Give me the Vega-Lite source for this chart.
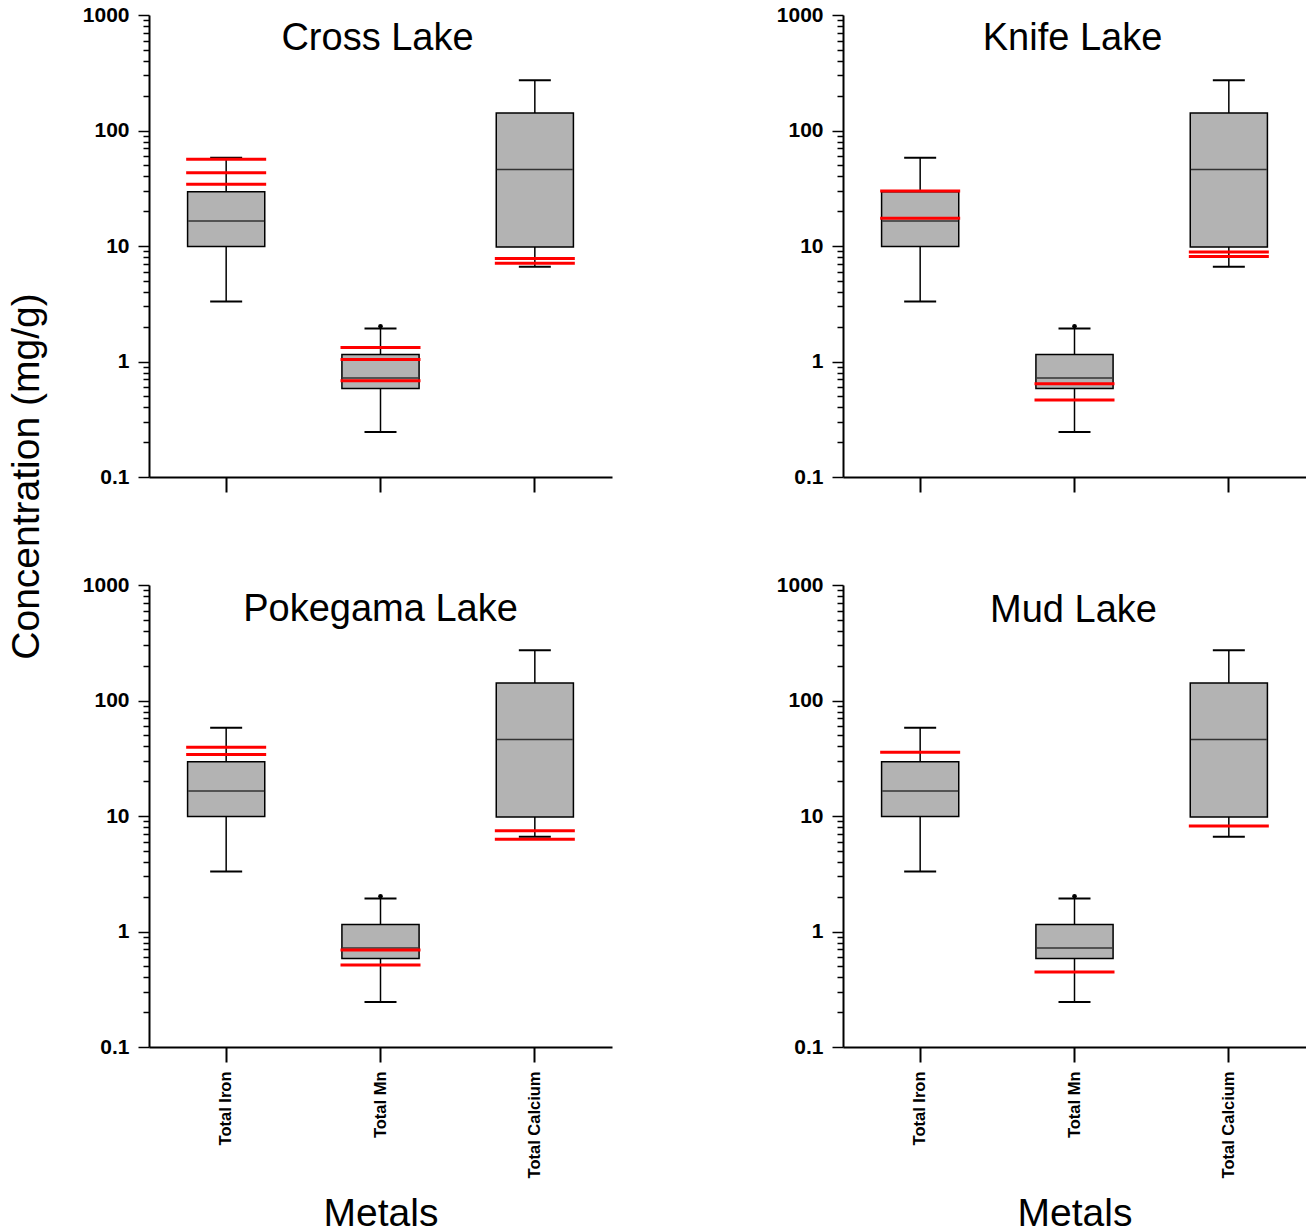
{
  "$schema": "https://vega.github.io/schema/vega-lite/v6.json",
  "background": "white",
  "padding": {"left": 7, "top": 4, "right": 0, "bottom": 0},
  "bounds": "flush",
  "columns": 2,
  "spacing": {"row": 108, "column": 231},
  "datasets": {
    "box": [
      {"lake": "Cross Lake", "metal": "Total Iron", "min": 3.3, "q1": 9.9, "median": 16.5, "q3": 29.5, "max": 58, "outlier": null},
      {"lake": "Cross Lake", "metal": "Total Mn", "min": 0.245, "q1": 0.585, "median": 0.72, "q3": 1.15, "max": 1.93, "outlier": 2.02},
      {"lake": "Cross Lake", "metal": "Total Calcium", "min": 6.6, "q1": 9.8, "median": 46, "q3": 142, "max": 272, "outlier": null},
      {"lake": "Knife Lake", "metal": "Total Iron", "min": 3.3, "q1": 9.9, "median": 16.5, "q3": 29.5, "max": 58, "outlier": null},
      {"lake": "Knife Lake", "metal": "Total Mn", "min": 0.245, "q1": 0.585, "median": 0.72, "q3": 1.15, "max": 1.93, "outlier": 2.02},
      {"lake": "Knife Lake", "metal": "Total Calcium", "min": 6.6, "q1": 9.8, "median": 46, "q3": 142, "max": 272, "outlier": null},
      {"lake": "Pokegama Lake", "metal": "Total Iron", "min": 3.3, "q1": 9.9, "median": 16.5, "q3": 29.5, "max": 58, "outlier": null},
      {"lake": "Pokegama Lake", "metal": "Total Mn", "min": 0.245, "q1": 0.585, "median": 0.72, "q3": 1.15, "max": 1.93, "outlier": 2.02},
      {"lake": "Pokegama Lake", "metal": "Total Calcium", "min": 6.6, "q1": 9.8, "median": 46, "q3": 142, "max": 272, "outlier": null},
      {"lake": "Mud Lake", "metal": "Total Iron", "min": 3.3, "q1": 9.9, "median": 16.5, "q3": 29.5, "max": 58, "outlier": null},
      {"lake": "Mud Lake", "metal": "Total Mn", "min": 0.245, "q1": 0.585, "median": 0.72, "q3": 1.15, "max": 1.93, "outlier": 2.02},
      {"lake": "Mud Lake", "metal": "Total Calcium", "min": 6.6, "q1": 9.8, "median": 46, "q3": 142, "max": 272, "outlier": null}
    ],
    "ref": [
      {"lake": "Cross Lake", "metal": "Total Iron", "value": 56.5},
      {"lake": "Cross Lake", "metal": "Total Iron", "value": 43},
      {"lake": "Cross Lake", "metal": "Total Iron", "value": 34.2},
      {"lake": "Cross Lake", "metal": "Total Mn", "value": 1.32},
      {"lake": "Cross Lake", "metal": "Total Mn", "value": 1.04},
      {"lake": "Cross Lake", "metal": "Total Mn", "value": 0.68},
      {"lake": "Cross Lake", "metal": "Total Calcium", "value": 7.8},
      {"lake": "Cross Lake", "metal": "Total Calcium", "value": 7.1},
      {"lake": "Knife Lake", "metal": "Total Iron", "value": 30},
      {"lake": "Knife Lake", "metal": "Total Iron", "value": 17.4},
      {"lake": "Knife Lake", "metal": "Total Mn", "value": 0.643},
      {"lake": "Knife Lake", "metal": "Total Mn", "value": 0.464},
      {"lake": "Knife Lake", "metal": "Total Calcium", "value": 8.86},
      {"lake": "Knife Lake", "metal": "Total Calcium", "value": 8.11},
      {"lake": "Pokegama Lake", "metal": "Total Iron", "value": 39.4},
      {"lake": "Pokegama Lake", "metal": "Total Iron", "value": 34.0},
      {"lake": "Pokegama Lake", "metal": "Total Mn", "value": 0.69},
      {"lake": "Pokegama Lake", "metal": "Total Mn", "value": 0.513},
      {"lake": "Pokegama Lake", "metal": "Total Calcium", "value": 7.45},
      {"lake": "Pokegama Lake", "metal": "Total Calcium", "value": 6.3},
      {"lake": "Mud Lake", "metal": "Total Iron", "value": 35.7},
      {"lake": "Mud Lake", "metal": "Total Mn", "value": 0.446},
      {"lake": "Mud Lake", "metal": "Total Calcium", "value": 8.18}
    ]
  },
  "concat": [
    {
      "width": 463, "height": 462,
      "data": {"name": "box"},
      "transform": [{"filter": "datum.lake === 'Cross Lake'"}],
      "layer": [
        {"mark": {"type": "rule", "color": "black", "strokeWidth": 1.5},
         "encoding": {
           "x": {"field": "metal", "type": "nominal", "sort": ["Total Iron", "Total Mn", "Total Calcium"], "scale": {"type": "band", "paddingInner": 0, "paddingOuter": 0},
                 "axis": {"labels": false, "title": null, "tickSize": 15, "tickWidth": 2, "domainWidth": 2}},
           "y": {"field": "min", "type": "quantitative", "scale": {"type": "log", "domain": [0.1, 1000], "nice": false},
                 "axis": {"values": [0.1,0.2,0.3,0.4,0.5,0.6,0.7,0.8,0.9,1,2,3,4,5,6,7,8,9,10,20,30,40,50,60,70,80,90,100,200,300,400,500,600,700,800,900,1000],
                          "labelExpr": "indexof([0.1,1,10,100,1000], datum.value) >= 0 ? datum.label : ''", "format": "~g",
                          "tickSize": {"condition": {"test": "indexof([0.1,1,10,100,1000], datum.value) >= 0", "value": 11}, "value": 6},
                          "title": "Concentration (mg/g)", "titleX": -103, "titleY": 461, "titleBaseline": "bottom", "titleAngle": 270, "titleAlign": "center", "titleFontSize": 39}},
           "y2": {"field": "max"}}},
        {"mark": {"type": "bar", "width": {"band": 0.5}, "fill": "#b3b3b3", "stroke": "black", "strokeWidth": 1.5},
         "encoding": {"x": {"field": "metal", "type": "nominal", "sort": ["Total Iron", "Total Mn", "Total Calcium"]}, "y": {"field": "q1", "type": "quantitative"}, "y2": {"field": "q3"}}},
        {"mark": {"type": "tick", "color": "#333333", "opacity": 1, "thickness": 1.5, "size": 76},
         "encoding": {"x": {"field": "metal", "type": "nominal", "sort": ["Total Iron", "Total Mn", "Total Calcium"]}, "y": {"field": "median", "type": "quantitative"}}},
        {"mark": {"type": "tick", "color": "black", "opacity": 1, "thickness": 2, "size": 32},
         "encoding": {"x": {"field": "metal", "type": "nominal", "sort": ["Total Iron", "Total Mn", "Total Calcium"]}, "y": {"field": "min", "type": "quantitative"}}},
        {"mark": {"type": "tick", "color": "black", "opacity": 1, "thickness": 2, "size": 32},
         "encoding": {"x": {"field": "metal", "type": "nominal", "sort": ["Total Iron", "Total Mn", "Total Calcium"]}, "y": {"field": "max", "type": "quantitative"}}},
        {"transform": [{"filter": "isValid(datum.outlier)"}],
         "mark": {"type": "point", "filled": true, "color": "black", "size": 22, "opacity": 1},
         "encoding": {"x": {"field": "metal", "type": "nominal", "sort": ["Total Iron", "Total Mn", "Total Calcium"]}, "y": {"field": "outlier", "type": "quantitative"}}},
        {"data": {"name": "ref"}, "transform": [{"filter": "datum.lake === 'Cross Lake'"}],
         "mark": {"type": "tick", "color": "#ff0000", "opacity": 1, "thickness": 3, "size": 80},
         "encoding": {"x": {"field": "metal", "type": "nominal", "sort": ["Total Iron", "Total Mn", "Total Calcium"]}, "y": {"field": "value", "type": "quantitative"}}},
        {"transform": [{"filter": "datum.metal === 'Total Mn'"}],
         "mark": {"type": "text", "font": "Liberation Sans", "fontSize": 38, "baseline": "alphabetic", "dx": -3, "dy": 35, "color": "black"},
         "encoding": {"x": {"field": "metal", "type": "nominal", "sort": ["Total Iron", "Total Mn", "Total Calcium"]}, "y": {"datum": 1000, "type": "quantitative"}, "text": {"field": "lake"}}}
      ]
    },
    {
      "width": 463, "height": 462,
      "data": {"name": "box"},
      "transform": [{"filter": "datum.lake === 'Knife Lake'"}],
      "layer": [
        {"mark": {"type": "rule", "color": "black", "strokeWidth": 1.5},
         "encoding": {
           "x": {"field": "metal", "type": "nominal", "sort": ["Total Iron", "Total Mn", "Total Calcium"], "scale": {"type": "band", "paddingInner": 0, "paddingOuter": 0},
                 "axis": {"labels": false, "title": null, "tickSize": 15, "tickWidth": 2, "domainWidth": 2}},
           "y": {"field": "min", "type": "quantitative", "scale": {"type": "log", "domain": [0.1, 1000], "nice": false},
                 "axis": {"values": [0.1,0.2,0.3,0.4,0.5,0.6,0.7,0.8,0.9,1,2,3,4,5,6,7,8,9,10,20,30,40,50,60,70,80,90,100,200,300,400,500,600,700,800,900,1000],
                          "labelExpr": "indexof([0.1,1,10,100,1000], datum.value) >= 0 ? datum.label : ''", "format": "~g",
                          "tickSize": {"condition": {"test": "indexof([0.1,1,10,100,1000], datum.value) >= 0", "value": 11}, "value": 6},
                          "title": null}},
           "y2": {"field": "max"}}},
        {"mark": {"type": "bar", "width": {"band": 0.5}, "fill": "#b3b3b3", "stroke": "black", "strokeWidth": 1.5},
         "encoding": {"x": {"field": "metal", "type": "nominal", "sort": ["Total Iron", "Total Mn", "Total Calcium"]}, "y": {"field": "q1", "type": "quantitative"}, "y2": {"field": "q3"}}},
        {"mark": {"type": "tick", "color": "#333333", "opacity": 1, "thickness": 1.5, "size": 76},
         "encoding": {"x": {"field": "metal", "type": "nominal", "sort": ["Total Iron", "Total Mn", "Total Calcium"]}, "y": {"field": "median", "type": "quantitative"}}},
        {"mark": {"type": "tick", "color": "black", "opacity": 1, "thickness": 2, "size": 32},
         "encoding": {"x": {"field": "metal", "type": "nominal", "sort": ["Total Iron", "Total Mn", "Total Calcium"]}, "y": {"field": "min", "type": "quantitative"}}},
        {"mark": {"type": "tick", "color": "black", "opacity": 1, "thickness": 2, "size": 32},
         "encoding": {"x": {"field": "metal", "type": "nominal", "sort": ["Total Iron", "Total Mn", "Total Calcium"]}, "y": {"field": "max", "type": "quantitative"}}},
        {"transform": [{"filter": "isValid(datum.outlier)"}],
         "mark": {"type": "point", "filled": true, "color": "black", "size": 22, "opacity": 1},
         "encoding": {"x": {"field": "metal", "type": "nominal", "sort": ["Total Iron", "Total Mn", "Total Calcium"]}, "y": {"field": "outlier", "type": "quantitative"}}},
        {"data": {"name": "ref"}, "transform": [{"filter": "datum.lake === 'Knife Lake'"}],
         "mark": {"type": "tick", "color": "#ff0000", "opacity": 1, "thickness": 3, "size": 80},
         "encoding": {"x": {"field": "metal", "type": "nominal", "sort": ["Total Iron", "Total Mn", "Total Calcium"]}, "y": {"field": "value", "type": "quantitative"}}},
        {"transform": [{"filter": "datum.metal === 'Total Mn'"}],
         "mark": {"type": "text", "font": "Liberation Sans", "fontSize": 38, "baseline": "alphabetic", "dx": -2, "dy": 35, "color": "black"},
         "encoding": {"x": {"field": "metal", "type": "nominal", "sort": ["Total Iron", "Total Mn", "Total Calcium"]}, "y": {"datum": 1000, "type": "quantitative"}, "text": {"field": "lake"}}}
      ]
    },
    {
      "width": 463, "height": 462,
      "data": {"name": "box"},
      "transform": [{"filter": "datum.lake === 'Pokegama Lake'"}],
      "layer": [
        {"mark": {"type": "rule", "color": "black", "strokeWidth": 1.5},
         "encoding": {
           "x": {"field": "metal", "type": "nominal", "sort": ["Total Iron", "Total Mn", "Total Calcium"], "scale": {"type": "band", "paddingInner": 0, "paddingOuter": 0},
                 "axis": {"labelAngle": -90, "labelFontSize": 16.5, "labelPadding": 9, "tickSize": 15, "tickWidth": 2, "domainWidth": 2, "title": "Metals", "titlePadding": 17, "titleFontSize": 39}},
           "y": {"field": "min", "type": "quantitative", "scale": {"type": "log", "domain": [0.1, 1000], "nice": false},
                 "axis": {"values": [0.1,0.2,0.3,0.4,0.5,0.6,0.7,0.8,0.9,1,2,3,4,5,6,7,8,9,10,20,30,40,50,60,70,80,90,100,200,300,400,500,600,700,800,900,1000],
                          "labelExpr": "indexof([0.1,1,10,100,1000], datum.value) >= 0 ? datum.label : ''", "format": "~g",
                          "tickSize": {"condition": {"test": "indexof([0.1,1,10,100,1000], datum.value) >= 0", "value": 11}, "value": 6},
                          "title": null}},
           "y2": {"field": "max"}}},
        {"mark": {"type": "bar", "width": {"band": 0.5}, "fill": "#b3b3b3", "stroke": "black", "strokeWidth": 1.5},
         "encoding": {"x": {"field": "metal", "type": "nominal", "sort": ["Total Iron", "Total Mn", "Total Calcium"]}, "y": {"field": "q1", "type": "quantitative"}, "y2": {"field": "q3"}}},
        {"mark": {"type": "tick", "color": "#333333", "opacity": 1, "thickness": 1.5, "size": 76},
         "encoding": {"x": {"field": "metal", "type": "nominal", "sort": ["Total Iron", "Total Mn", "Total Calcium"]}, "y": {"field": "median", "type": "quantitative"}}},
        {"mark": {"type": "tick", "color": "black", "opacity": 1, "thickness": 2, "size": 32},
         "encoding": {"x": {"field": "metal", "type": "nominal", "sort": ["Total Iron", "Total Mn", "Total Calcium"]}, "y": {"field": "min", "type": "quantitative"}}},
        {"mark": {"type": "tick", "color": "black", "opacity": 1, "thickness": 2, "size": 32},
         "encoding": {"x": {"field": "metal", "type": "nominal", "sort": ["Total Iron", "Total Mn", "Total Calcium"]}, "y": {"field": "max", "type": "quantitative"}}},
        {"transform": [{"filter": "isValid(datum.outlier)"}],
         "mark": {"type": "point", "filled": true, "color": "black", "size": 22, "opacity": 1},
         "encoding": {"x": {"field": "metal", "type": "nominal", "sort": ["Total Iron", "Total Mn", "Total Calcium"]}, "y": {"field": "outlier", "type": "quantitative"}}},
        {"data": {"name": "ref"}, "transform": [{"filter": "datum.lake === 'Pokegama Lake'"}],
         "mark": {"type": "tick", "color": "#ff0000", "opacity": 1, "thickness": 3, "size": 80},
         "encoding": {"x": {"field": "metal", "type": "nominal", "sort": ["Total Iron", "Total Mn", "Total Calcium"]}, "y": {"field": "value", "type": "quantitative"}}},
        {"transform": [{"filter": "datum.metal === 'Total Mn'"}],
         "mark": {"type": "text", "font": "Liberation Sans", "fontSize": 38, "baseline": "alphabetic", "dx": 0, "dy": 36, "color": "black"},
         "encoding": {"x": {"field": "metal", "type": "nominal", "sort": ["Total Iron", "Total Mn", "Total Calcium"]}, "y": {"datum": 1000, "type": "quantitative"}, "text": {"field": "lake"}}}
      ]
    },
    {
      "width": 463, "height": 462,
      "data": {"name": "box"},
      "transform": [{"filter": "datum.lake === 'Mud Lake'"}],
      "layer": [
        {"mark": {"type": "rule", "color": "black", "strokeWidth": 1.5},
         "encoding": {
           "x": {"field": "metal", "type": "nominal", "sort": ["Total Iron", "Total Mn", "Total Calcium"], "scale": {"type": "band", "paddingInner": 0, "paddingOuter": 0},
                 "axis": {"labelAngle": -90, "labelFontSize": 16.5, "labelPadding": 9, "tickSize": 15, "tickWidth": 2, "domainWidth": 2, "title": "Metals", "titlePadding": 17, "titleFontSize": 39}},
           "y": {"field": "min", "type": "quantitative", "scale": {"type": "log", "domain": [0.1, 1000], "nice": false},
                 "axis": {"values": [0.1,0.2,0.3,0.4,0.5,0.6,0.7,0.8,0.9,1,2,3,4,5,6,7,8,9,10,20,30,40,50,60,70,80,90,100,200,300,400,500,600,700,800,900,1000],
                          "labelExpr": "indexof([0.1,1,10,100,1000], datum.value) >= 0 ? datum.label : ''", "format": "~g",
                          "tickSize": {"condition": {"test": "indexof([0.1,1,10,100,1000], datum.value) >= 0", "value": 11}, "value": 6},
                          "title": null}},
           "y2": {"field": "max"}}},
        {"mark": {"type": "bar", "width": {"band": 0.5}, "fill": "#b3b3b3", "stroke": "black", "strokeWidth": 1.5},
         "encoding": {"x": {"field": "metal", "type": "nominal", "sort": ["Total Iron", "Total Mn", "Total Calcium"]}, "y": {"field": "q1", "type": "quantitative"}, "y2": {"field": "q3"}}},
        {"mark": {"type": "tick", "color": "#333333", "opacity": 1, "thickness": 1.5, "size": 76},
         "encoding": {"x": {"field": "metal", "type": "nominal", "sort": ["Total Iron", "Total Mn", "Total Calcium"]}, "y": {"field": "median", "type": "quantitative"}}},
        {"mark": {"type": "tick", "color": "black", "opacity": 1, "thickness": 2, "size": 32},
         "encoding": {"x": {"field": "metal", "type": "nominal", "sort": ["Total Iron", "Total Mn", "Total Calcium"]}, "y": {"field": "min", "type": "quantitative"}}},
        {"mark": {"type": "tick", "color": "black", "opacity": 1, "thickness": 2, "size": 32},
         "encoding": {"x": {"field": "metal", "type": "nominal", "sort": ["Total Iron", "Total Mn", "Total Calcium"]}, "y": {"field": "max", "type": "quantitative"}}},
        {"transform": [{"filter": "isValid(datum.outlier)"}],
         "mark": {"type": "point", "filled": true, "color": "black", "size": 22, "opacity": 1},
         "encoding": {"x": {"field": "metal", "type": "nominal", "sort": ["Total Iron", "Total Mn", "Total Calcium"]}, "y": {"field": "outlier", "type": "quantitative"}}},
        {"data": {"name": "ref"}, "transform": [{"filter": "datum.lake === 'Mud Lake'"}],
         "mark": {"type": "tick", "color": "#ff0000", "opacity": 1, "thickness": 3, "size": 80},
         "encoding": {"x": {"field": "metal", "type": "nominal", "sort": ["Total Iron", "Total Mn", "Total Calcium"]}, "y": {"field": "value", "type": "quantitative"}}},
        {"transform": [{"filter": "datum.metal === 'Total Mn'"}],
         "mark": {"type": "text", "font": "Liberation Sans", "fontSize": 38, "baseline": "alphabetic", "dx": -1, "dy": 37, "color": "black"},
         "encoding": {"x": {"field": "metal", "type": "nominal", "sort": ["Total Iron", "Total Mn", "Total Calcium"]}, "y": {"datum": 1000, "type": "quantitative"}, "text": {"field": "lake"}}}
      ]
    }
  ],
  "config": {
    "view": {"stroke": null},
    "axis": {
      "grid": false,
      "domainColor": "black",
      "tickColor": "black",
      "labelColor": "black",
      "titleColor": "black",
      "labelFont": "Liberation Sans",
      "labelFontWeight": "bold",
      "titleFont": "Liberation Sans",
      "titleFontWeight": "normal",
      "labelOverlap": false
    },
    "axisY": {
      "domainWidth": 2,
      "tickWidth": 1.5,
      "labelFontSize": 21,
      "labelPadding": 9
    }
  }
}
